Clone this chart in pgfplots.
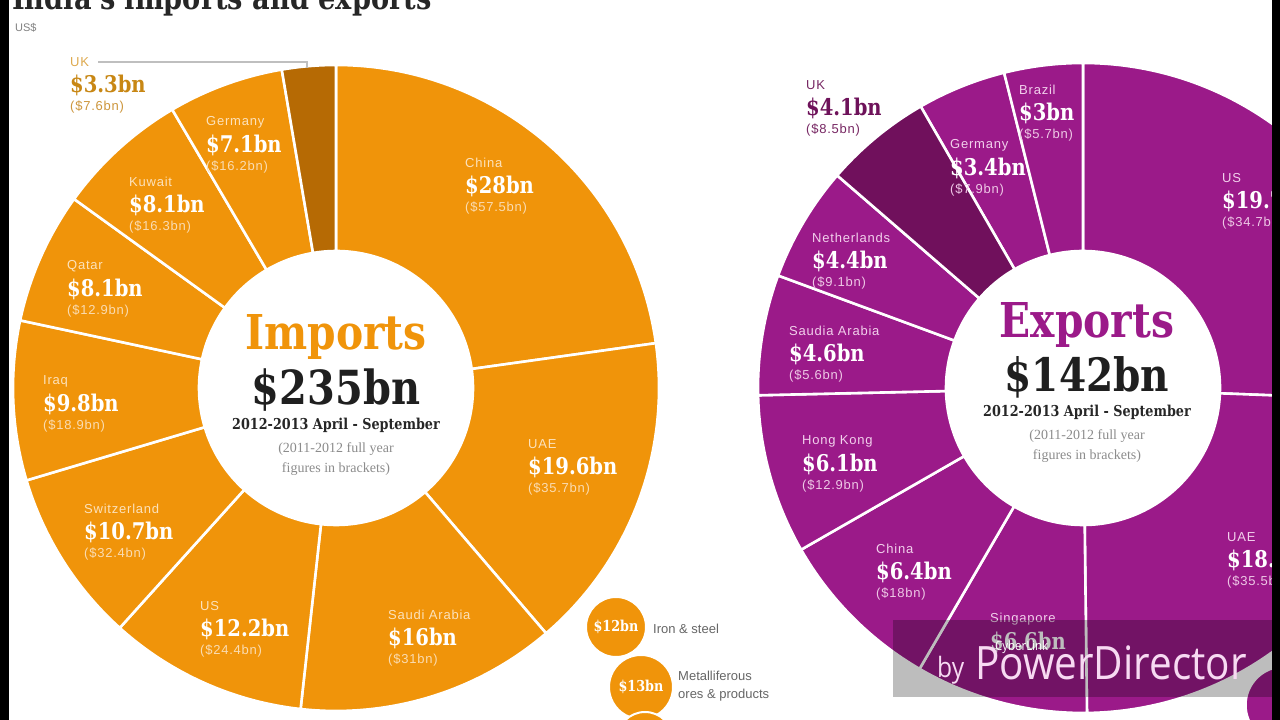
\documentclass[border=0pt]{standalone}
\usepackage{pgfplots}
\pgfplotsset{compat=1.18}
\usepackage{pgfplotstable}
\usepackage{fontspec}
\setmainfont{Liberation Sans}
\newfontfamily\slab[FakeStretch=0.85]{DejaVu Serif}
\newfontfamily\lbl[LetterSpace=6]{Liberation Sans}
\newfontfamily\seriff{Liberation Serif}
\newfontfamily\wm[FakeStretch=0.88]{Open Sans}

\definecolor{impcol}{RGB}{240,148,10}
\definecolor{impdark}{RGB}{182,106,4}
\definecolor{expcol}{RGB}{155,26,137}
\definecolor{expdark}{RGB}{112,16,92}
\definecolor{impname}{RGB}{252,226,188}
\definecolor{impval}{RGB}{255,255,255}
\definecolor{impbr}{RGB}{250,220,178}
\definecolor{expname}{RGB}{242,208,236}
\definecolor{expval}{RGB}{255,255,255}
\definecolor{expbr}{RGB}{238,200,230}
\definecolor{ukiname}{RGB}{222,170,80}
\definecolor{ukival}{RGB}{200,135,20}
\definecolor{ukibr}{RGB}{205,150,60}
\definecolor{ukename}{RGB}{120,40,100}
\definecolor{ukeval}{RGB}{110,18,90}
\definecolor{ukebr}{RGB}{120,40,100}
\definecolor{wmtext}{RGB}{247,218,242}

% India's imports, 2012-2013 April-September (US$ bn), previous full year in prev
\pgfplotstableread{
country value prev
China 28 57.5
UAE 19.6 35.7
Saudi-Arabia 16 31
US 12.2 24.4
Switzerland 10.7 32.4
Iraq 9.8 18.9
Qatar 8.1 12.9
Kuwait 8.1 16.3
Germany 7.1 16.2
UK 3.3 7.6
}\importtable

% India's exports
\pgfplotstableread{
country value prev
US 19.7 34.7
UAE 18.6 35.5
Singapore 6.6 0
China 6.4 18
Hong-Kong 6.1 12.9
Saudia-Arabia 4.6 5.6
Netherlands 4.4 9.1
UK 4.1 8.5
Germany 3.4 7.9
Brazil 3 5.7
}\exporttable

\newcommand\computeangles[2]{%
  \def\total{0}%
  \pgfplotsforeachungrouped \r in {0,...,9}{%
    \pgfplotstablegetelem{\r}{value}\of{#1}%
    \pgfmathsetmacro\total{\total+\pgfplotsretval}}%
  \def\cum{0}%
  \pgfplotsforeachungrouped \r in {0,...,9}{%
    \pgfplotstablegetelem{\r}{value}\of{#1}%
    \pgfmathsetmacro\angA{\cum/\total*360}%
    \pgfmathsetmacro\cum{\cum+\pgfplotsretval}%
    \pgfmathsetmacro\angB{\cum/\total*360}%
    \expandafter\xdef\csname #2a\r\endcsname{\angA}%
    \expandafter\xdef\csname #2b\r\endcsname{\angB}}}
\computeangles{\importtable}{imp}
\computeangles{\exporttable}{exp}

% cx cy rin rout startdeg enddeg colour (degrees clockwise from 12 o'clock)
\newcommand\donutwedge[7]{%
  \fill[#7, draw=white, line width=2.6pt, shift={(axis cs:#1,#2)}]
    ({90-#5}:#4pt) arc[start angle={90-#5}, end angle={90-#6}, radius=#4pt]
    -- ({90-#6}:#3pt) arc[start angle={90-#6}, end angle={90-#5}, radius=#3pt] -- cycle;}

% x, y of name line, name, value, bracket, colour set
\newcommand\lab[6]{%
  \node[anchor=west, inner sep=0, font=\lbl\fontsize{13}{13}\selectfont, text=#6name] at (axis cs:#1,#2) {#3};
  \node[anchor=west, inner sep=0, font=\slab\bfseries\fontsize{23}{23}\selectfont, text=#6val, yshift=-23pt] at (axis cs:#1,#2) {#4};
  \node[anchor=west, inner sep=0, font=\lbl\fontsize{13}{13}\selectfont, text=#6br, yshift=-45pt] at (axis cs:#1,#2) {#5};}

\begin{document}
\begin{tikzpicture}
\begin{axis}[x=1pt, y=1pt, xmin=0, xmax=1280, ymin=0, ymax=720,
  hide axis, at={(0,0)}, anchor=origin, clip=false, set layers]
\fill[white] (axis cs:0,0) rectangle (axis cs:1280,720);

% ---- Imports donut
\pgfplotsinvokeforeach{0,...,8}{\donutwedge{336}{332}{137}{323}{\csname impa#1\endcsname}{\csname impb#1\endcsname}{impcol}}
\donutwedge{336}{332}{137}{323}{\csname impa9\endcsname}{\csname impb9\endcsname}{impdark}

% ---- Exports donut
\pgfplotsinvokeforeach{0,...,6,8,9}{\donutwedge{1083}{332}{137}{325}{\csname expa#1\endcsname}{\csname expb#1\endcsname}{expcol}}
\donutwedge{1083}{332}{137}{325}{\csname expa7\endcsname}{\csname expb7\endcsname}{expdark}

% ---- bubbles
\addplot[only marks, mark=*, mark size=30pt, mark options={fill=impcol, draw=white, line width=2pt},
  nodes near coords={\$12bn}, every node near coord/.append style={anchor=center, text=white, font=\slab\bfseries\fontsize{15}{15}\selectfont}] coordinates {(616,93)};
\addplot[only marks, mark=*, mark size=32pt, mark options={fill=impcol, draw=white, line width=2pt},
  nodes near coords={\$13bn}, every node near coord/.append style={anchor=center, text=white, font=\slab\bfseries\fontsize{15}{15}\selectfont}] coordinates {(641,33)};
\addplot[only marks, mark=*, mark size=28pt, mark options={fill=impcol, draw=white, line width=2pt}] coordinates {(645,-20)};
\addplot[only marks, mark=*, mark size=38pt, mark options={fill=expcol, draw=white, line width=1.5pt}] coordinates {(1284,15)};
\node[anchor=west, inner sep=0, font=\fontsize{13}{13}\selectfont, text=black!60] at (axis cs:653,91) {Iron \& steel};
\node[anchor=west, inner sep=0, font=\fontsize{13}{13}\selectfont, text=black!60] at (axis cs:678,44) {Metalliferous};
\node[anchor=west, inner sep=0, font=\fontsize{13}{13}\selectfont, text=black!60] at (axis cs:678,25) {ores \& products};

% ---- title
\node[anchor=base west, inner sep=0, font=\slab\bfseries\fontsize{32}{32}\selectfont, text=black!85] at (axis cs:12,710) {India's imports and exports};
\node[anchor=west, inner sep=0, font=\fontsize{11}{11}\selectfont, text=black!50] at (axis cs:15,692) {US\$};

% ---- import labels
\lab{465}{557}{China}{\$28bn}{(\$57.5bn)}{imp}
\lab{528}{276}{UAE}{\$19.6bn}{(\$35.7bn)}{imp}
\lab{388}{105}{Saudi Arabia}{\$16bn}{(\$31bn)}{imp}
\lab{200}{114}{US}{\$12.2bn}{(\$24.4bn)}{imp}
\lab{84}{211}{Switzerland}{\$10.7bn}{(\$32.4bn)}{imp}
\lab{43}{339}{Iraq}{\$9.8bn}{(\$18.9bn)}{imp}
\lab{67}{454}{Qatar}{\$8.1bn}{(\$12.9bn)}{imp}
\lab{129}{538}{Kuwait}{\$8.1bn}{(\$16.3bn)}{imp}
\lab{206}{598}{Germany}{\$7.1bn}{(\$16.2bn)}{imp}
\lab{70}{658}{UK}{\$3.3bn}{(\$7.6bn)}{uki}
\draw[black!25, line width=1.2pt] (axis cs:98,658) -- (axis cs:307,658) -- (axis cs:307,652);

% ---- export labels
\lab{1019}{630}{Brazil}{\$3bn}{(\$5.7bn)}{exp}
\lab{950}{575}{Germany}{\$3.4bn}{(\$7.9bn)}{exp}
\lab{806}{635}{UK}{\$4.1bn}{(\$8.5bn)}{uke}
\lab{812}{482}{Netherlands}{\$4.4bn}{(\$9.1bn)}{exp}
\lab{789}{389}{Saudia Arabia}{\$4.6bn}{(\$5.6bn)}{exp}
\lab{802}{279}{Hong Kong}{\$6.1bn}{(\$12.9bn)}{exp}
\lab{876}{171}{China}{\$6.4bn}{(\$18bn)}{exp}
\lab{990}{101}{Singapore}{\$6.6bn}{}{exp}
\lab{1222}{542}{US}{\$19.7bn}{(\$34.7bn)}{exp}
\lab{1227}{183}{UAE}{\$18.6bn}{(\$35.5bn)}{exp}

% ---- centre texts
\node[font=\slab\bfseries\fontsize{48}{48}\selectfont, text=impcol] at (axis cs:336,383) {Imports};
\node[font=\slab\bfseries\fontsize{47}{47}\selectfont, text=black!88] at (axis cs:336,330) {\$235bn};
\node[font=\slab\bfseries\fontsize{15}{15}\selectfont, text=black!85] at (axis cs:336,295) {2012-2013 April - September};
\node[font=\seriff\fontsize{14}{14}\selectfont, text=black!45] at (axis cs:336,271) {(2011-2012 full year};
\node[font=\seriff\fontsize{14}{14}\selectfont, text=black!45] at (axis cs:336,251) {figures in brackets)};

\node[font=\slab\bfseries\fontsize{48}{48}\selectfont, text=expcol] at (axis cs:1087,395) {Exports};
\node[font=\slab\bfseries\fontsize{46}{46}\selectfont, text=black!88] at (axis cs:1087,343) {\$142bn};
\node[font=\slab\bfseries\fontsize{15}{15}\selectfont, text=black!85] at (axis cs:1087,308) {2012-2013 April - September};
\node[font=\seriff\fontsize{14}{14}\selectfont, text=black!45] at (axis cs:1087,284) {(2011-2012 full year};
\node[font=\seriff\fontsize{14}{14}\selectfont, text=black!45] at (axis cs:1087,264) {figures in brackets)};

% ---- watermark and frame, above everything
\begin{pgfonlayer}{axis foreground}
\fill[black, opacity=0.26] (axis cs:893,23) rectangle (axis cs:1272,100);
\node[anchor=base west, inner sep=0, font=\wm\fontsize{28}{28}\selectfont, text=wmtext] at (axis cs:937,42) {by};
\node[anchor=base west, inner sep=0, font=\wm\fontsize{46}{46}\selectfont, text=wmtext] at (axis cs:975,40) {PowerDirector};
\node[anchor=base west, inner sep=0, font=\wm\fontsize{13}{13}\selectfont, text=white] at (axis cs:995,69) {CyberLink};
\fill[black] (axis cs:0,0) rectangle (axis cs:9,720);
\fill[black] (axis cs:1272,0) rectangle (axis cs:1280,720);
\end{pgfonlayer}
\end{axis}
\pgfresetboundingbox
\useasboundingbox (0,0) rectangle (1280pt,720pt);
\end{tikzpicture}
\end{document}
